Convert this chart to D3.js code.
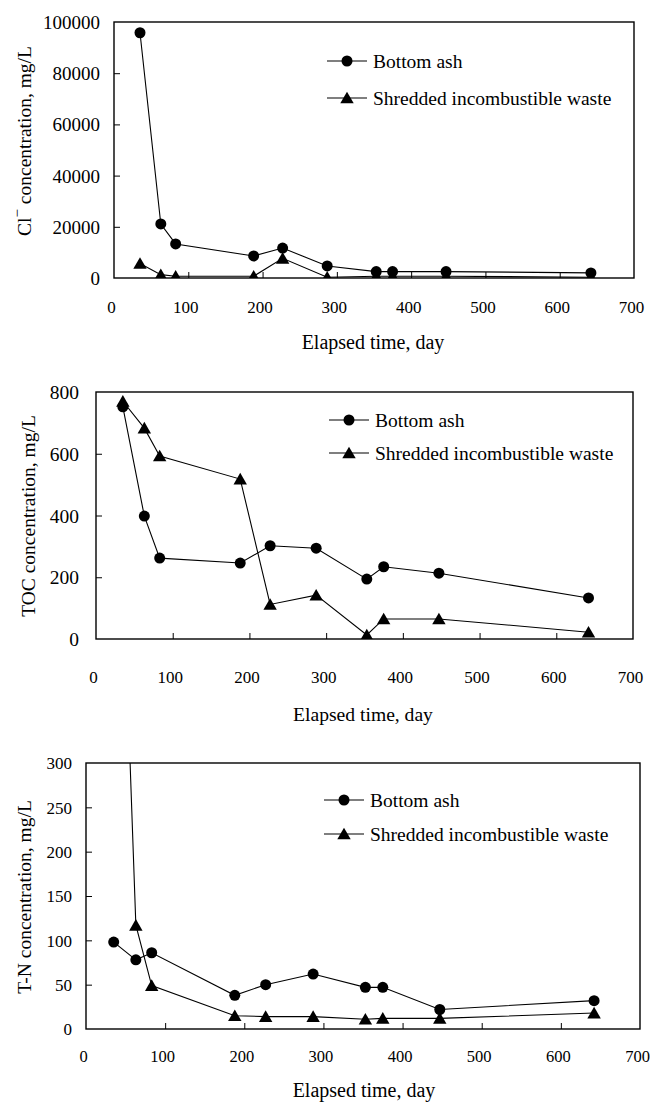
<!DOCTYPE html>
<html>
<head>
<meta charset="utf-8">
<script src="https://cdn.jsdelivr.net/npm/d3@7"></script>
<style>
  body { margin: 0; background: #fff; }
  svg { display: block; }
</style>
</head>
<body>
<svg id="chart" width="650" height="1102"></svg>
<script>
// elapsed days of each sampling
const days = [35, 63, 83, 188, 227, 287, 353, 375, 447, 642];

// Cl- concentration, mg/L
const clBottomAsh = [95800, 21100, 13300, 8600, 11700, 4700, 2500, 2500, 2500, 2000];
const clShredded  = [5700, 1300, 700, 700, 7700, 300, 700, 700, 700, 300];

// TOC concentration, mg/L
const tocBottomAsh = [752, 398, 262, 246, 302, 294, 194, 234, 213, 133];
const tocShredded  = [770, 683, 593, 518, 112, 142, 13, 65, 65, 22];

// T-N concentration, mg/L (first shredded value runs off the top)
const tnBottomAsh = [98, 78, 86, 38, 50, 62, 47, 47, 22, 32];
const tnShredded  = [820, 117, 49, 15, 14, 14, 11, 12, 12, 18];

const xTicks   = [0, 100, 200, 300, 400, 500, 600, 700];
const clTicks  = [0, 20000, 40000, 60000, 80000, 100000];
const tocTicks = [0, 200, 400, 600, 800];
const tnTicks  = [0, 50, 100, 150, 200, 250, 300];

const seriesNames = ["Bottom ash", "Shredded incombustible waste"];
const xTitle = "Elapsed time, day";

const FONT = "\"Liberation Serif\", \"Times New Roman\", Tinos, \"DejaVu Serif\", \"Noto Serif\", serif";

const svg = d3.select("#chart");

// whatever serif we get, scale it so the legend line is as wide as in the figure (Times metrics)
const probe = svg.append("text").style("font-family", FONT).style("font-size", "100px").text(seriesNames[1]);
const fontScale = 1222 / probe.node().getComputedTextLength();
probe.remove();
const fs = s => (s * fontScale).toFixed(2) + "px";

const circle = d3.symbol().type(d3.symbolCircle).size(95);
const triangle = d3.symbol().type(d3.symbolTriangle).size(78);
const symbols = [circle, triangle];

// Function to draw one panel
function drawPanel(cfg, idx) {
    const x = d3.scaleLinear().domain([0, 700]).range([cfg.left, cfg.right]);
    const y = d3.scaleLinear().domain([0, cfg.yMax]).range([cfg.bottom, cfg.top]);

    const g = svg.append("g");

    const clipId = "clip" + idx;
    g.append("clipPath").attr("id", clipId)
        .append("rect")
        .attr("x", cfg.left).attr("y", cfg.top)
        .attr("width", cfg.right - cfg.left).attr("height", cfg.bottom - cfg.top);

    // x ticks pointing inward
    g.append("g")
        .attr("transform", `translate(0,${cfg.bottom})`)
        .call(d3.axisBottom(x).tickValues(xTicks.slice(1, -1)).tickSize(-6).tickFormat(""))
        .call(a => a.select(".domain").remove())
        .call(a => a.selectAll("line").attr("stroke", "#000").attr("stroke-width", 1));

    // x labels (printed ~3px left of the tick marks)
    g.append("g")
        .attr("transform", `translate(-3,${cfg.xLabelBase})`)
        .call(d3.axisBottom(x).tickValues(xTicks).tickFormat(d3.format("d")).tickSize(0).tickPadding(0))
        .call(a => a.select(".domain").remove())
        .call(a => a.selectAll("text")
            .attr("dy", 0).attr("y", 0)
            .attr("fill", "#000")
            .style("font-size", fs(cfg.xFont))
            .style("font-family", FONT));

    // y labels
    g.append("g")
        .attr("transform", `translate(${cfg.left},0)`)
        .call(d3.axisLeft(y).tickValues(cfg.yTicks).tickFormat(d3.format("d")).tickSize(0).tickPadding(cfg.left - cfg.yLabelRight))
        .call(a => a.select(".domain").remove())
        .call(a => a.selectAll("text")
            .attr("dy", "0.34em")
            .attr("fill", "#000")
            .style("font-size", fs(cfg.yFont))
            .style("font-family", FONT));

    // y ticks pointing inward
    g.append("g")
        .attr("transform", `translate(${cfg.left},0)`)
        .call(d3.axisRight(y).tickValues(cfg.yTicks.slice(1, -1)).tickSize(6).tickFormat(""))
        .call(a => a.select(".domain").remove())
        .call(a => a.selectAll("line").attr("stroke", "#000").attr("stroke-width", 1));

    // frame
    g.append("rect")
        .attr("x", cfg.left).attr("y", cfg.top)
        .attr("width", cfg.right - cfg.left).attr("height", cfg.bottom - cfg.top)
        .attr("fill", "none").attr("stroke", "#000").attr("stroke-width", 1.4);

    // series
    const line = d3.line().x((d, i) => x(days[i])).y(d => y(d));
    const plot = g.append("g").attr("clip-path", `url(#${clipId})`);
    cfg.series.forEach((vals, s) => {
        plot.append("path")
            .datum(vals)
            .attr("d", line)
            .attr("fill", "none")
            .attr("stroke", "#000")
            .attr("stroke-width", 1.1);
        plot.selectAll(".m" + s)
            .data(vals)
            .enter()
            .append("path")
            .attr("class", "m" + s)
            .attr("d", symbols[s])
            .attr("transform", (d, i) => `translate(${x(days[i])},${y(d) + (s === 1 ? 1.5 : 0)})`)
            .attr("fill", "#000");
    });

    // legend
    seriesNames.forEach((name, s) => {
        const ly = cfg.legendY[s];
        g.append("line")
            .attr("x1", cfg.legendX).attr("x2", cfg.legendX + 40)
            .attr("y1", ly).attr("y2", ly)
            .attr("stroke", "#000").attr("stroke-width", 1.1);
        g.append("path")
            .attr("d", symbols[s])
            .attr("transform", `translate(${cfg.legendX + 20},${ly + (s === 1 ? 1.5 : 0)})`)
            .attr("fill", "#000");
        g.append("text")
            .attr("x", cfg.legendX + 46).attr("y", ly + 6.5)
            .style("font-family", FONT)
            .style("font-size", fs(19.5))
            .text(name);
    });

    // x title
    g.append("text")
        .attr("x", cfg.xTitleX).attr("y", cfg.xTitleBase)
        .attr("text-anchor", "middle")
        .style("font-family", FONT)
        .style("font-size", fs(cfg.xTitleFont))
        .text(xTitle);

    // y title
    const yt = g.append("text")
        .attr("transform", `translate(${cfg.yTitleX},${cfg.yTitleY}) rotate(-90)`)
        .attr("text-anchor", "middle")
        .style("font-family", FONT)
        .style("font-size", fs(19.5));
    cfg.yTitle(yt);
}

const panels = [
    {
        left: 114, right: 634, top: 22, bottom: 278,
        yMax: 100000, yTicks: clTicks, series: [clBottomAsh, clShredded],
        xLabelBase: 313, xFont: 17,
        yLabelRight: 100, yFont: 19,
        legendX: 327, legendY: [61, 98],
        xTitleX: 373, xTitleBase: 349, xTitleFont: 20,
        yTitleX: 31, yTitleY: 141,
        yTitle: t => {
            t.append("tspan").text("Cl");
            t.append("tspan").attr("dy", -9).style("font-size", fs(15)).text("\u2212");
            t.append("tspan").attr("dy", 9).text(" concentration, mg/L");
        }
    },
    {
        left: 96, right: 633, top: 392, bottom: 639,
        yMax: 800, yTicks: tocTicks, series: [tocBottomAsh, tocShredded],
        xLabelBase: 683, xFont: 17,
        yLabelRight: 79, yFont: 19.5,
        legendX: 329, legendY: [420, 453],
        xTitleX: 363, xTitleBase: 721, xTitleFont: 19.6,
        yTitleX: 35, yTitleY: 516,
        yTitle: t => t.text("TOC concentration, mg/L")
    },
    {
        left: 86, right: 640, top: 763, bottom: 1029,
        yMax: 300, yTicks: tnTicks, series: [tnBottomAsh, tnShredded],
        xLabelBase: 1062, xFont: 16.5,
        yLabelRight: 72, yFont: 17,
        legendX: 324, legendY: [800, 834],
        xTitleX: 364, xTitleBase: 1097, xTitleFont: 20,
        yTitleX: 31, yTitleY: 897,
        yTitle: t => t.text("T-N concentration, mg/L")
    }
];

panels.forEach((p, i) => drawPanel(p, i));
</script>
</body>
</html>
